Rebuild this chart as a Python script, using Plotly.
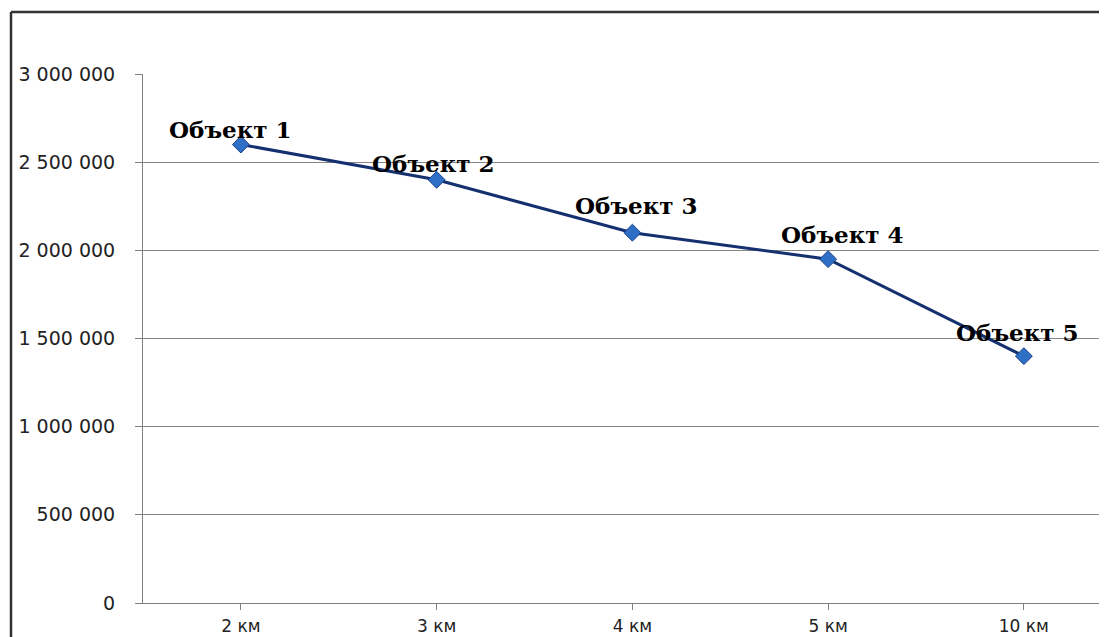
import plotly.graph_objects as go

categories = ["2 км", "3 км", "4 км", "5 км", "10 км"]
values = [2600000, 2400000, 2100000, 1950000, 1400000]
labels = ["Объект 1", "Объект 2", "Объект 3", "Объект 4", "Объект 5"]
y_ticks = [0, 500000, 1000000, 1500000, 2000000, 2500000, 3000000]

# label offsets (pixels) relative to each point
label_dx = [-10, -3, 4, 14, -6]
label_dy = [15, 16, 27, 25, 24]

OFF = 8  # page body margin
W, H = 1107 - OFF, 637 - OFF
L, R, T, B = 143 - OFF, 0, 74 - OFF, 34
pw, ph = W - L - R, H - T - B

fig = go.Figure()
fig.add_trace(go.Scatter(
    x=list(range(len(categories))), y=values, mode="lines+markers",
    line=dict(color="#15306F", width=3),
    marker=dict(symbol="diamond", size=13, color="#2F6FC6",
                line=dict(color="#17408A", width=1)),
    showlegend=False, hoverinfo="skip", cliponaxis=False,
))

for i, (lab, v) in enumerate(zip(labels, values)):
    fig.add_annotation(x=i, y=v, text=lab, showarrow=False,
                       xshift=label_dx[i], yshift=label_dy[i],
                       font=dict(family="DejaVu Serif", size=23, color="#000000",
                                 weight="bold"))

def px_x(p):
    return (p - OFF - L) / pw

def px_y(p):
    return (H - B - (p - OFF)) / ph

border = dict(color="#333333", width=2.5)
fig.add_shape(type="line", xref="paper", yref="paper",
              x0=px_x(11), x1=px_x(11), y0=px_y(12), y1=px_y(660), line=border)
fig.add_shape(type="line", xref="paper", yref="paper",
              x0=px_x(11), x1=px_x(1120), y0=px_y(12), y1=px_y(12), line=border)

step = (926 - 143) / 4.0
fig.update_layout(
    width=W, height=H,
    margin=dict(l=L, r=R, t=T, b=B),
    paper_bgcolor="white", plot_bgcolor="white",
    separators=", ",
    xaxis=dict(
        tickmode="array", tickvals=list(range(len(categories))), ticktext=categories,
        range=[-0.5, -0.5 + pw / step],
        showgrid=False, zeroline=False, showline=True, linecolor="#7f7f7f", linewidth=1,
        ticks="outside", ticklen=6, tickcolor="#7f7f7f", tickson="boundaries",
        tickfont=dict(family="DejaVu Sans", size=17, color="#222222"),
        ticklabelstandoff=2, automargin=False,
    ),
    yaxis=dict(
        range=[0, 3000000], tickmode="array", tickvals=y_ticks,
        tickformat=",d", showgrid=True, gridcolor="#868686", gridwidth=1,
        zeroline=False, showline=True, linecolor="#7f7f7f", linewidth=1,
        ticks="outside", ticklen=7, tickcolor="#7f7f7f",
        tickfont=dict(family="DejaVu Sans", size=19, color="#222222"),
        ticklabelstandoff=16, automargin=False,
    ),
)

fig.write_html("out.html")
